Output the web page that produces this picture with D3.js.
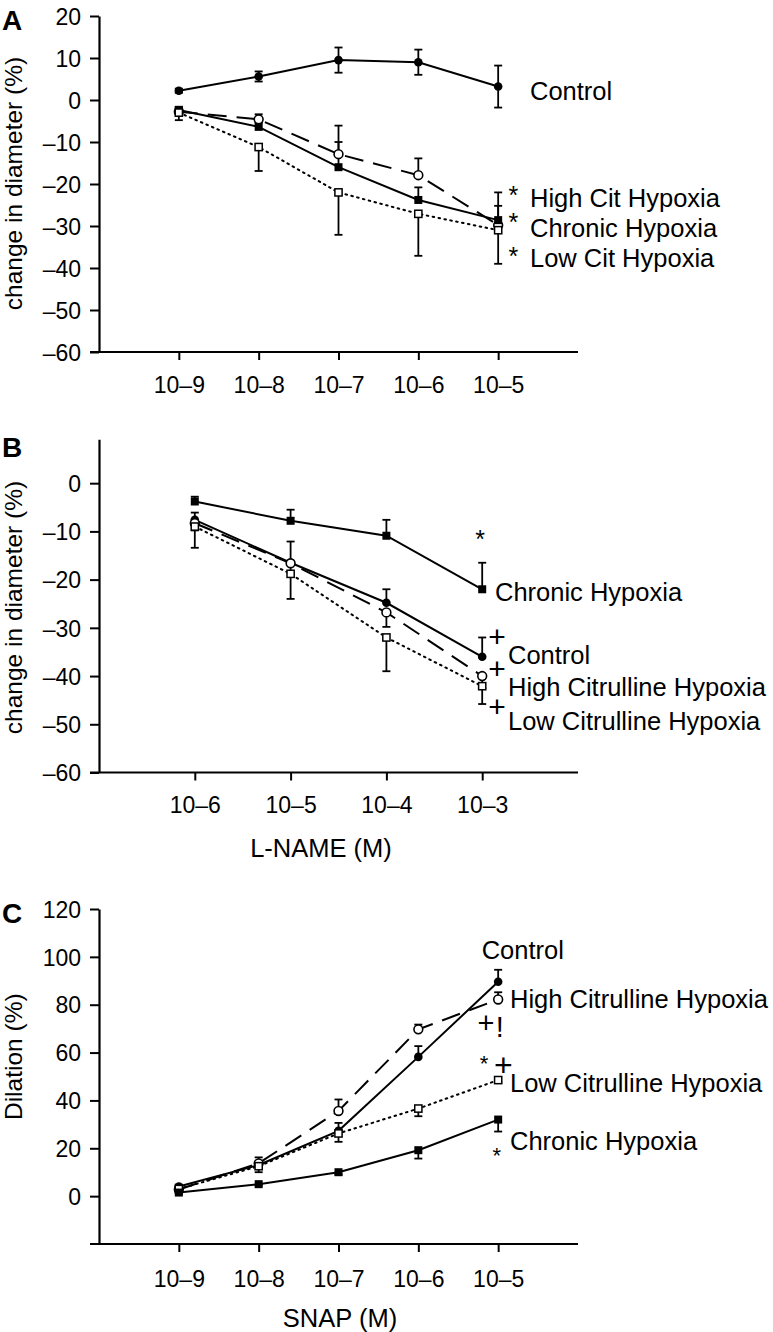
<!DOCTYPE html>
<html><head><meta charset="utf-8">
<script src="https://cdn.jsdelivr.net/npm/d3@7"></script>
<style>body{margin:0;background:#fff}</style>
</head><body>
<script>
// ---------- Panel A data ----------
const aDoses = ["10–9","10–8","10–7","10–6","10–5"];
const aYTicks = [20,10,0,-10,-20,-30,-40,-50,-60];
const aControl = [2.2, 5.6, 9.5, 9.0, 3.2];
const aControlErr = [0.5, 1.2, 3.0, 3.0, 5.0];
const aHighCit = [-2.8, -4.6, -12.9, -17.9, -29.8];
const aHighCitErr = [1.0, 1.2, 6.8, 4.0, 7.8];
const aChronic = [-2.4, -6.4, -16.0, -23.8, -28.6];
const aChronicErr = [0.8, 1.0, 6.0, 3.0, 3.4];
const aLowCit = [-3.0, -11.2, -22.0, -27.1, -31.0];
const aLowCitErr = [1.8, 5.7, 10.1, 10.0, 8.0];
const aLabels = ["Control","High Cit Hypoxia","Chronic Hypoxia","Low Cit Hypoxia"];

// ---------- Panel B data ----------
const bDoses = ["10–6","10–5","10–4","10–3"];
const bYTicks = [0,-10,-20,-30,-40,-50,-60];
const bChronic = [-3.8, -7.8, -10.9, -22.0];
const bChronicErr = [1.0, 2.3, 3.3, 5.5];
const bControl = [-7.6, -16.5, -24.8, -36.0];
const bControlErr = [1.5, 4.4, 2.8, 4.0];
const bHighCit = [-8.3, -16.6, -26.8, -40.0];
const bHighCitErr = [1.5, 2.0, 3.0, 2.5];
const bLowCit = [-9.0, -18.8, -32.0, -42.1];
const bLowCitErr = [4.4, 5.2, 7.0, 3.7];
const bLabels = ["Chronic Hypoxia","Control","High Citrulline Hypoxia","Low Citrulline Hypoxia"];

// ---------- Panel C data ----------
const cDoses = ["10–9","10–8","10–7","10–6","10–5"];
const cYTicks = [120,100,80,60,40,20,0];
const cControl = [4.0, 13.0, 27.3, 58.2, 89.6];
const cControlErr = [0.8, 1.5, 3.3, 4.5, 5.0];
const cHighCit = [2.8, 13.7, 35.6, 69.7, 82.2];
const cHighCitErr = [0.8, 2.5, 4.8, 2.0, 3.0];
const cLowCit = [3.0, 12.5, 26.2, 36.6, 48.5];
const cLowCitErr = [0.8, 2.5, 3.5, 3.2, 1.0];
const cChronic = [1.5, 5.0, 10.0, 19.2, 32.0];
const cChronicErr = [0.5, 0.5, 1.0, 3.5, 5.0];
const cLabels = ["Control","High Citrulline Hypoxia","Low Citrulline Hypoxia","Chronic Hypoxia"];

const FONT = "'Liberation Sans', Arial, Helvetica, sans-serif";
const svg = d3.select("body").append("svg")
  .attr("width",773).attr("height",1332)
  .style("font-family",FONT).style("background","#fff");

const fmt = d => d < 0 ? "–" + (-d) : String(d);

const ST = {
  control: {marker:"circle", fill:true,  dash:null},
  chronic: {marker:"square", fill:true,  dash:null},
  highcit: {marker:"circle", fill:false, dash:"19,10"},
  lowcit:  {marker:"square", fill:false, dash:"1.6,4.4"}
};

function panel(p){
  const n = p.doses.length;
  const x = d3.scaleLinear().domain([-1, n]).range([99, 578]);
  const y = d3.scaleLinear().domain(p.yDomain).range(p.yRange);
  const g = svg.append("g");
  const yBottom = p.yRange[0];

  // y axis
  const ya = g.append("g").attr("transform","translate(99,0)")
    .call(d3.axisLeft(y).tickValues(p.yTicks).tickSize(9).tickSizeOuter(0).tickPadding(9).tickFormat(fmt));
  ya.attr("font-family",null).attr("font-size",23);
  ya.select(".domain").attr("stroke","#000").attr("stroke-width",2.2);
  ya.selectAll(".tick line").attr("stroke","#000").attr("stroke-width",2);
  ya.selectAll(".tick text").attr("fill","#000").attr("dy","0.36em");

  // x axis
  const xa = g.append("g").attr("transform",`translate(0,${yBottom})`)
    .call(d3.axisBottom(x).tickValues(d3.range(n)).tickFormat(i => p.doses[i])
      .tickSize(8).tickSizeOuter(0).tickPadding(p.xPad));
  xa.attr("font-family",null).attr("font-size",23);
  xa.select(".domain").remove();
  xa.selectAll(".tick line").attr("stroke","#000").attr("stroke-width",2);
  xa.selectAll(".tick text").attr("fill","#000");
  g.append("line").attr("x1",90).attr("x2",578).attr("y1",yBottom).attr("y2",yBottom)
    .attr("stroke","#000").attr("stroke-width",2.2);

  const line = d3.line().x((d,i)=>x(i)).y(d=>y(d));

  // lines
  p.series.forEach(s => {
    const st = ST[s.type];
    g.append("path").datum(s.values).attr("d",line)
      .attr("fill","none").attr("stroke","#000").attr("stroke-width",2)
      .attr("stroke-dasharray",st.dash).attr("stroke-linecap", s.type==="lowcit" ? "round" : "butt");
  });

  // error bars
  p.series.forEach(s => {
    s.values.forEach((v,i) => {
      const e = s.err[i];
      const ends = s.dir==="up" ? [v+e] : s.dir==="down" ? [v-e] : [v+e, v-e];
      ends.forEach(end => {
        g.append("line").attr("x1",x(i)).attr("x2",x(i)).attr("y1",y(v)).attr("y2",y(end))
          .attr("stroke","#000").attr("stroke-width",1.8);
        g.append("line").attr("x1",x(i)-4).attr("x2",x(i)+4).attr("y1",y(end)).attr("y2",y(end))
          .attr("stroke","#000").attr("stroke-width",1.8);
      });
    });
  });

  // markers
  p.series.forEach(s => {
    const st = ST[s.type];
    s.values.forEach((v,i) => {
      if (st.marker==="circle") {
        g.append("circle").attr("cx",x(i)).attr("cy",y(v)).attr("r", st.fill ? 4.3 : 4.4)
          .attr("fill", st.fill ? "#000" : "#fff").attr("stroke","#000").attr("stroke-width", st.fill ? 0 : 1.6);
      } else {
        const sz = st.fill ? 8 : 7.2;
        g.append("rect").attr("x",x(i)-sz/2).attr("y",y(v)-sz/2).attr("width",sz).attr("height",sz)
          .attr("fill", st.fill ? "#000" : "#fff").attr("stroke","#000").attr("stroke-width", st.fill ? 0 : 1.5);
      }
    });
  });

  // series labels
  p.labels.forEach((t,k) => {
    g.append("text").attr("x",p.labelPos[k][0]).attr("y",p.labelPos[k][1])
      .attr("font-size",25.5).attr("fill","#000").text(t);
  });
  // annotations
  p.notes.forEach(a => {
    g.append("text").attr("x",a[1]).attr("y",a[2]).attr("font-size",a[3])
      .attr("text-anchor","middle").attr("fill","#000").text(a[0]);
  });
  // panel letter
  g.append("text").attr("x",2).attr("y",p.letterY).attr("font-size",28).attr("font-weight","bold")
    .attr("fill","#000").text(p.letter);
  // y title
  g.append("text").attr("transform",`translate(22,${p.yTitleY}) rotate(-90)`)
    .attr("text-anchor","middle").attr("font-size",24.5).attr("fill","#000").text(p.yTitle);
  if (p.xTitle) {
    g.append("text").attr("x",p.xTitlePos[0]).attr("y",p.xTitlePos[1]).attr("text-anchor","middle")
      .attr("font-size",25.5).attr("fill","#000").text(p.xTitle);
  }
}

panel({
  doses: aDoses, yDomain:[-60,20], yRange:[352,16], yTicks:aYTicks, xPad:16.3,
  series:[
    {type:"control", values:aControl, err:aControlErr, dir:"both"},
    {type:"highcit", values:aHighCit, err:aHighCitErr, dir:"up"},
    {type:"chronic", values:aChronic, err:aChronicErr, dir:"up"},
    {type:"lowcit",  values:aLowCit,  err:aLowCitErr,  dir:"down"}
  ],
  labels: aLabels, labelPos: [[530,99.7],[530,207.3],[530,237.3],[530,267.3]],
  notes: [["*",513.3,204.3,25],["*",513.3,231,25],["*",513.3,265,25]],
  letter:"A", letterY:30, yTitle:"change in diameter (%)", yTitleY:183.5
});

panel({
  doses: bDoses, yDomain:[-60,9.1], yRange:[772.5,439.3], yTicks:bYTicks, xPad:16.3,
  series:[
    {type:"chronic", values:bChronic, err:bChronicErr, dir:"up"},
    {type:"control", values:bControl, err:bControlErr, dir:"up"},
    {type:"highcit", values:bHighCit, err:bHighCitErr, dir:"down"},
    {type:"lowcit",  values:bLowCit,  err:bLowCitErr,  dir:"down"}
  ],
  labels: bLabels, labelPos: [[495,600.7],[508,664],[508,696],[508,729.7]],
  notes: [["*",480,547.6,25],["+",497,647.3,30],["+",497,678.6,30],["+",497,717.3,30]],
  letter:"B", letterY:457, yTitle:"change in diameter (%)", yTitleY:607.5,
  xTitle:"L-NAME (M)", xTitlePos:[321,857]
});

panel({
  doses: cDoses, yDomain:[-20,120], yRange:[1244,909], yTicks:cYTicks, xPad:18.8,
  series:[
    {type:"control", values:cControl, err:cControlErr, dir:"up"},
    {type:"highcit", values:cHighCit, err:cHighCitErr, dir:"up"},
    {type:"lowcit",  values:cLowCit,  err:cLowCitErr,  dir:"down"},
    {type:"chronic", values:cChronic, err:cChronicErr, dir:"down"}
  ],
  labels: cLabels, labelPos: [[481.7,959],[510,1008],[510,1091.7],[510,1149.7]],
  notes: [["+",486,1033,29],["!",499.7,1036.5,29],["*",484,1070.8,22],["+",503.3,1076.2,32],["*",496.7,1162.5,22]],
  letter:"C", letterY:922.5, yTitle:"Dilation (%)", yTitleY:1056.7,
  xTitle:"SNAP (M)", xTitlePos:[340,1327]
});
</script>
</body></html>
